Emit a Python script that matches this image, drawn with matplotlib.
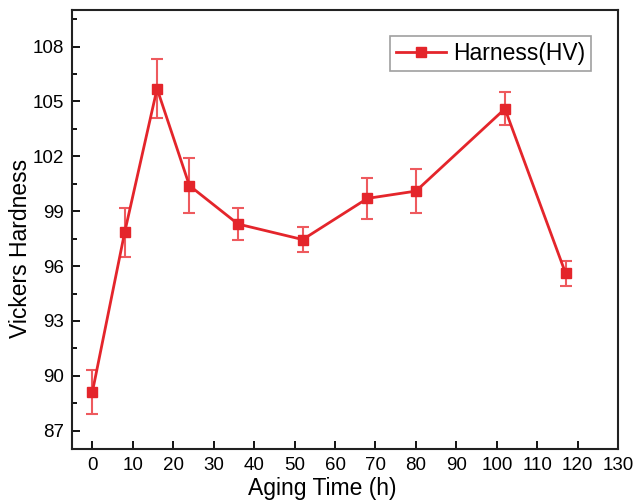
import matplotlib
matplotlib.use('Agg')
from matplotlib import pyplot as plt
from matplotlib.ticker import MultipleLocator
from matplotlib.lines import Line2D

aging_time = [0, 8, 16, 24, 36, 52, 68, 80, 102, 117]
hardness = [89.1, 97.85, 105.7, 100.4, 98.3, 97.45, 99.7, 100.1, 104.6, 95.6]
hardness_err = [1.2, 1.35, 1.6, 1.5, 0.85, 0.7, 1.1, 1.2, 0.9, 0.7]

plt.rcParams['font.family'] = ['Liberation Sans', 'DejaVu Sans']

fig = plt.figure(figsize=(6.38, 5), dpi=100)
ax = fig.add_axes([0.113, 0.102, 0.856, 0.878])

red = '#e4252b'
ax.errorbar(aging_time, hardness, yerr=hardness_err, color=red, ecolor='#ee5a5e',
            elinewidth=1.5, capsize=4, capthick=1.5, marker='s', markersize=7.5,
            linewidth=2)

ax.set_xlim(-5, 130)
ax.set_ylim(86, 110)
ax.xaxis.set_major_locator(MultipleLocator(10))
ax.yaxis.set_major_locator(MultipleLocator(3))
ax.yaxis.set_minor_locator(MultipleLocator(1.5))
ax.tick_params(which='both', direction='in', labelsize=13.5, width=1.3)
ax.tick_params(which='major', length=6)
ax.tick_params(which='minor', length=3.5)
ax.tick_params(axis='x', pad=6)
ax.tick_params(axis='y', pad=6)
for s in ax.spines.values():
    s.set_linewidth(1.5)
    s.set_color('#222222')

ax.set_xlabel('Aging Time (h)', fontsize=16.5)
ax.set_ylabel('Vickers Hardness', fontsize=16.5)
ax.xaxis.set_label_coords(0.458, -0.064)
ax.yaxis.set_label_coords(-0.073, 0.457)

handle = Line2D([], [], color=red, marker='s', markersize=7, linewidth=2)
leg = ax.legend([handle], ['Harness(HV)'], loc='upper right', fontsize=16.5,
                fancybox=False, edgecolor='#888888', bbox_to_anchor=(0.95, 0.94),
                handlelength=2.2, handletextpad=0.3, borderpad=0.25, borderaxespad=0)
leg.get_frame().set_linewidth(1.2)

plt.savefig('out.png', format='png')
plt.close()
